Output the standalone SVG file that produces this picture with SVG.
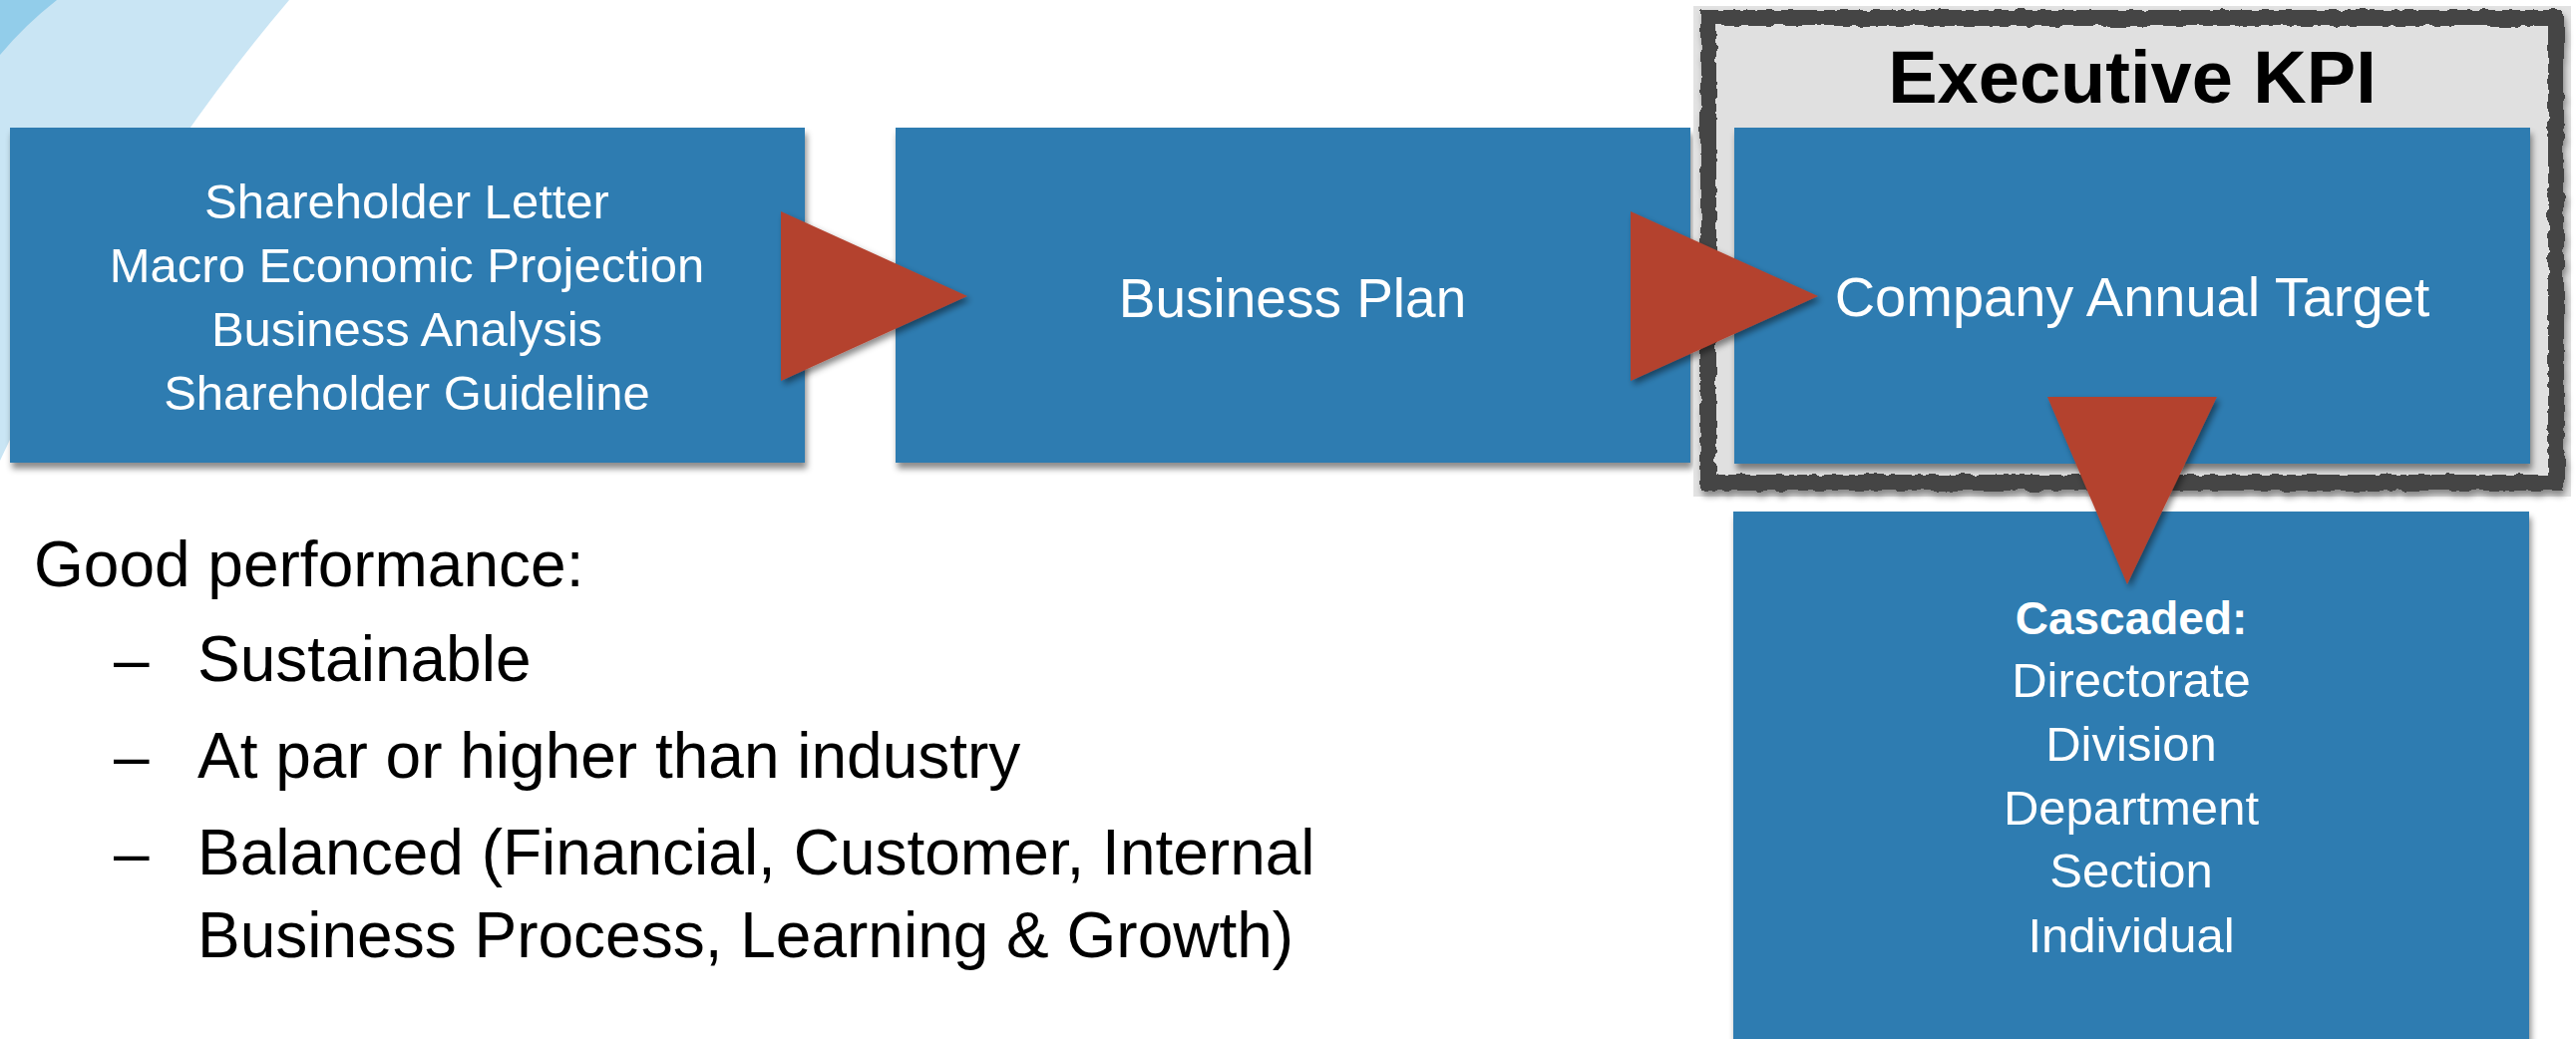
<svg xmlns="http://www.w3.org/2000/svg" width="2583" height="1042" viewBox="0 0 2583 1042">
<style>
.box{fill:#2d7bb1;filter:url(#shadow)}
.tri{fill:#b4432f;filter:url(#tshadow)}
.wt{fill:#ffffff;font-family:"Liberation Sans",Arial,sans-serif;text-anchor:middle}
.bk{fill:#000000;font-family:"Liberation Sans",Arial,sans-serif}
</style>
<defs>
<filter id="shadow" x="-5%" y="-5%" width="115%" height="115%">
<feDropShadow dx="2" dy="6" stdDeviation="3" flood-color="#000" flood-opacity="0.45"/>
</filter>
<filter id="tshadow" x="-10%" y="-10%" width="130%" height="130%">
<feDropShadow dx="3" dy="4" stdDeviation="3" flood-color="#000" flood-opacity="0.45"/>
</filter>
<filter id="rough" x="-5%" y="-5%" width="110%" height="110%">
<feTurbulence type="fractalNoise" baseFrequency="0.09" numOctaves="2" seed="3" result="n"/>
<feDisplacementMap in="SourceGraphic" in2="n" scale="7" xChannelSelector="R" yChannelSelector="G" result="d"/>
<feDropShadow dx="2" dy="5" stdDeviation="3" flood-color="#000" flood-opacity="0.4"/>
</filter>
</defs>
<rect x="0" y="0" width="2583" height="1042" fill="#ffffff"/>
<g id="background">
<path d="M 290 0 Q 120 200 0 462 L 0 0 Z" fill="#c9e5f4"/>
<path d="M 0 0 L 57 0 Q 25 25 0 55 Z" fill="#92cdea"/>
</g>
<g id="node-inputs">
<rect class="box" x="10" y="128" width="797" height="336"/>
<text class="wt" font-size="49"><tspan x="408" y="219">Shareholder Letter</tspan><tspan x="408" y="283">Macro Economic Projection</tspan><tspan x="408" y="347">Business Analysis</tspan><tspan x="408" y="411">Shareholder Guideline</tspan></text>
</g>
<g id="node-business-plan">
<rect class="box" x="898" y="128" width="797" height="336"/>
<text class="wt" font-size="55" x="1296" y="318">Business Plan</text>
</g>
<g id="node-executive-kpi">
<rect x="1698" y="6" width="880" height="492" fill="#e2e2e2"/>
<rect x="1713" y="18" width="850" height="466" fill="#e0e0e0" stroke="#444444" stroke-width="16" filter="url(#rough)"/>
<text class="bk" font-size="74" font-weight="bold" text-anchor="middle" x="2138" y="103">Executive KPI</text>
<g id="node-company-target">
<rect class="box" x="1739" y="128" width="798" height="337"/>
<text class="wt" font-size="56" x="2138" y="317">Company Annual Target</text>
</g>
</g>
<g id="node-cascaded">
<rect class="box" x="1738" y="513" width="798" height="540"/>
<text class="wt" font-size="46" font-weight="bold" x="2137" y="636">Cascaded:</text>
<text class="wt" font-size="49"><tspan x="2137" y="699">Directorate</tspan><tspan x="2137" y="763">Division</tspan><tspan x="2137" y="827">Department</tspan><tspan x="2137" y="890">Section</tspan><tspan x="2137" y="955">Individual</tspan></text>
</g>
<g id="node-good-performance">
<text class="bk" font-size="64" x="34" y="588">Good performance:</text>
<text class="bk" font-size="64"><tspan x="114" y="683">–</tspan><tspan x="114" y="780">–</tspan><tspan x="114" y="877">–</tspan></text>
<text class="bk" font-size="64"><tspan x="198" y="683">Sustainable</tspan><tspan x="198" y="780">At par or higher than industry</tspan><tspan x="198" y="877">Balanced (Financial, Customer, Internal</tspan><tspan x="198" y="960">Business Process, Learning &amp; Growth)</tspan></text>
</g>
<g id="connectors">
<polygon class="tri" points="783,212 783,382 970,297"/>
<polygon class="tri" points="1635,212 1635,382 1823,297"/>
<polygon class="tri" points="2053,398 2223,398 2133,586"/>
</g>
</svg>
